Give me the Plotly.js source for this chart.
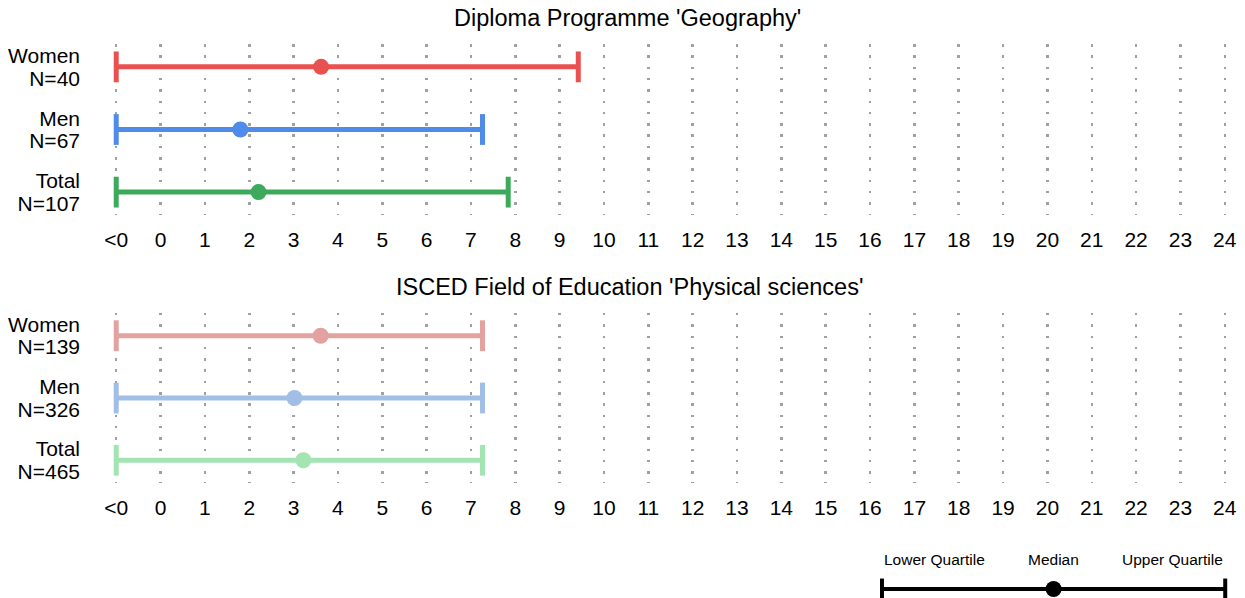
<!DOCTYPE html>
<html>
<head>
<meta charset="utf-8">
<script src="https://cdn.plot.ly/plotly-3.0.1.min.js"></script>
<style>html,body{margin:0;padding:0;background:#fff;}#chart{width:1245px;height:598px;}</style>
</head>
<body>
<div id="chart"></div>
<script>
// ---- data ----
const groups = ["Women", "Men", "Total"];
const panel1Title = "Diploma Programme 'Geography'";
const panel1N = [40, 67, 107];
const panel1Lower = [-1, -1, -1];
const panel1Median = [3.62, 1.80, 2.21];
const panel1Upper = [9.42, 7.26, 7.84];

const panel2Title = "ISCED Field of Education 'Physical sciences'";
const panel2N = [139, 326, 465];
const panel2Lower = [-1, -1, -1];
const panel2Median = [3.61, 3.02, 3.22];
const panel2Upper = [7.26, 7.26, 7.26];

const xTickVals = [-1,0,1,2,3,4,5,6,7,8,9,10,11,12,13,14,15,16,17,18,19,20,21,22,23,24];
const xTickText = ["<0","0","1","2","3","4","5","6","7","8","9","10","11","12","13","14","15","16","17","18","19","20","21","22","23","24"];

const legendLabels = ["Lower Quartile", "Median", "Upper Quartile"];
const legendX = [0, 0.5, 1];

// ---- styles ----
const colors1 = ["#E8514F", "#4F8BE8", "#3DAA5B"];
const colors2 = ["#E3A1A0", "#A1BFE6", "#A3E4B3"];
const FONT = "Liberation Sans, Arial, sans-serif";

const traces = [];
function addPanel(lower, median, upper, colors, xa, ya) {
  groups.forEach((g, i) => {
    traces.push({
      type: "scatter", mode: "lines+markers", xaxis: xa, yaxis: ya,
      x: [lower[i], median[i], upper[i]], y: [i, i, i],
      line: {color: colors[i], width: 5},
      marker: {color: colors[i], opacity: 1, symbol: ["line-ns", "circle", "line-ns"], size: [22, 16, 22],
               line: {color: colors[i], width: [5, 0, 5]}},
      cliponaxis: false, hoverinfo: "skip", showlegend: false
    });
  });
}
addPanel(panel1Lower, panel1Median, panel1Upper, colors1, "x", "y");
addPanel(panel2Lower, panel2Median, panel2Upper, colors2, "x2", "y2");
traces.push({
  type: "scatter", mode: "lines+markers", xaxis: "x3", yaxis: "y3",
  x: legendX, y: legendX.map(() => 0),
  line: {color: "#000", width: 4},
  marker: {color: "#000", opacity: 1, symbol: ["line-ns", "circle", "line-ns"], size: [15, 16, 15],
           line: {color: "#000", width: [4, 0, 4]}},
  cliponaxis: false, hoverinfo: "skip", showlegend: false
});

function yTicks(N) {
  const vals = [], text = [];
  groups.forEach((g, i) => { vals.push(i - 0.18, i + 0.18); text.push(g, "N=" + N[i]); });
  return {vals, text};
}
const yt1 = yTicks(panel1N), yt2 = yTicks(panel2N);

const xBase = {
  range: [-1.05, 24.05], tickvals: xTickVals, ticktext: xTickText,
  showgrid: true, gridcolor: "#a0a0a0", gridwidth: 2.5, griddash: "2.5px,8.8px",
  zeroline: false, showline: false, ticks: "", ticklabelstandoff: 10,
  tickfont: {family: FONT, size: 21, color: "#000"}, fixedrange: true
};
const yBase = {
  range: [2.365, -0.365], showgrid: false, zeroline: false, showline: false, ticks: "",
  ticklabelstandoff: 33, tickfont: {family: FONT, size: 21, color: "#000"}, fixedrange: true
};

const layout = {
  width: 1245, height: 598,
  margin: {l: 114, r: 18, t: 0, b: 0},
  paper_bgcolor: "#fff", plot_bgcolor: "#fff",
  showlegend: false,
  xaxis: Object.assign({}, xBase, {anchor: "y", domain: [0, 1]}),
  yaxis: Object.assign({}, yBase, {anchor: "x", domain: [0.6405, 0.9264], tickvals: yt1.vals, ticktext: yt1.text}),
  xaxis2: Object.assign({}, xBase, {anchor: "y2", domain: [0, 1]}),
  yaxis2: Object.assign({}, yBase, {anchor: "x2", domain: [0.1923, 0.4766], tickvals: yt2.vals, ticktext: yt2.text}),
  xaxis3: {anchor: "y3", domain: [0.690, 0.9984], range: [0, 1], visible: false, fixedrange: true},
  yaxis3: {anchor: "x3", domain: [0, 0.03], range: [-1, 1], visible: false, fixedrange: true},
  annotations: [
    {text: panel1Title, xref: "paper", yref: "paper", x: 0.4618, y: 0.9699, xanchor: "center", yanchor: "middle",
     showarrow: false, font: {family: FONT, size: 23.5, color: "#000"}},
    {text: panel2Title, xref: "paper", yref: "paper", x: 0.4636, y: 0.5201, xanchor: "center", yanchor: "middle",
     showarrow: false, font: {family: FONT, size: 23.5, color: "#000"}}
  ].concat(legendLabels.map((t, i) => ({
    text: t, xref: "x3", yref: "y3", x: legendX[i], y: 0, yshift: 30,
    xanchor: i === 0 ? "left" : (i === 2 ? "right" : "center"), yanchor: "middle",
    showarrow: false, font: {family: FONT, size: 15.5, color: "#000"}
  })))
};

Plotly.newPlot("chart", traces, layout, {displayModeBar: false, staticPlot: true});
</script>
</body>
</html>
